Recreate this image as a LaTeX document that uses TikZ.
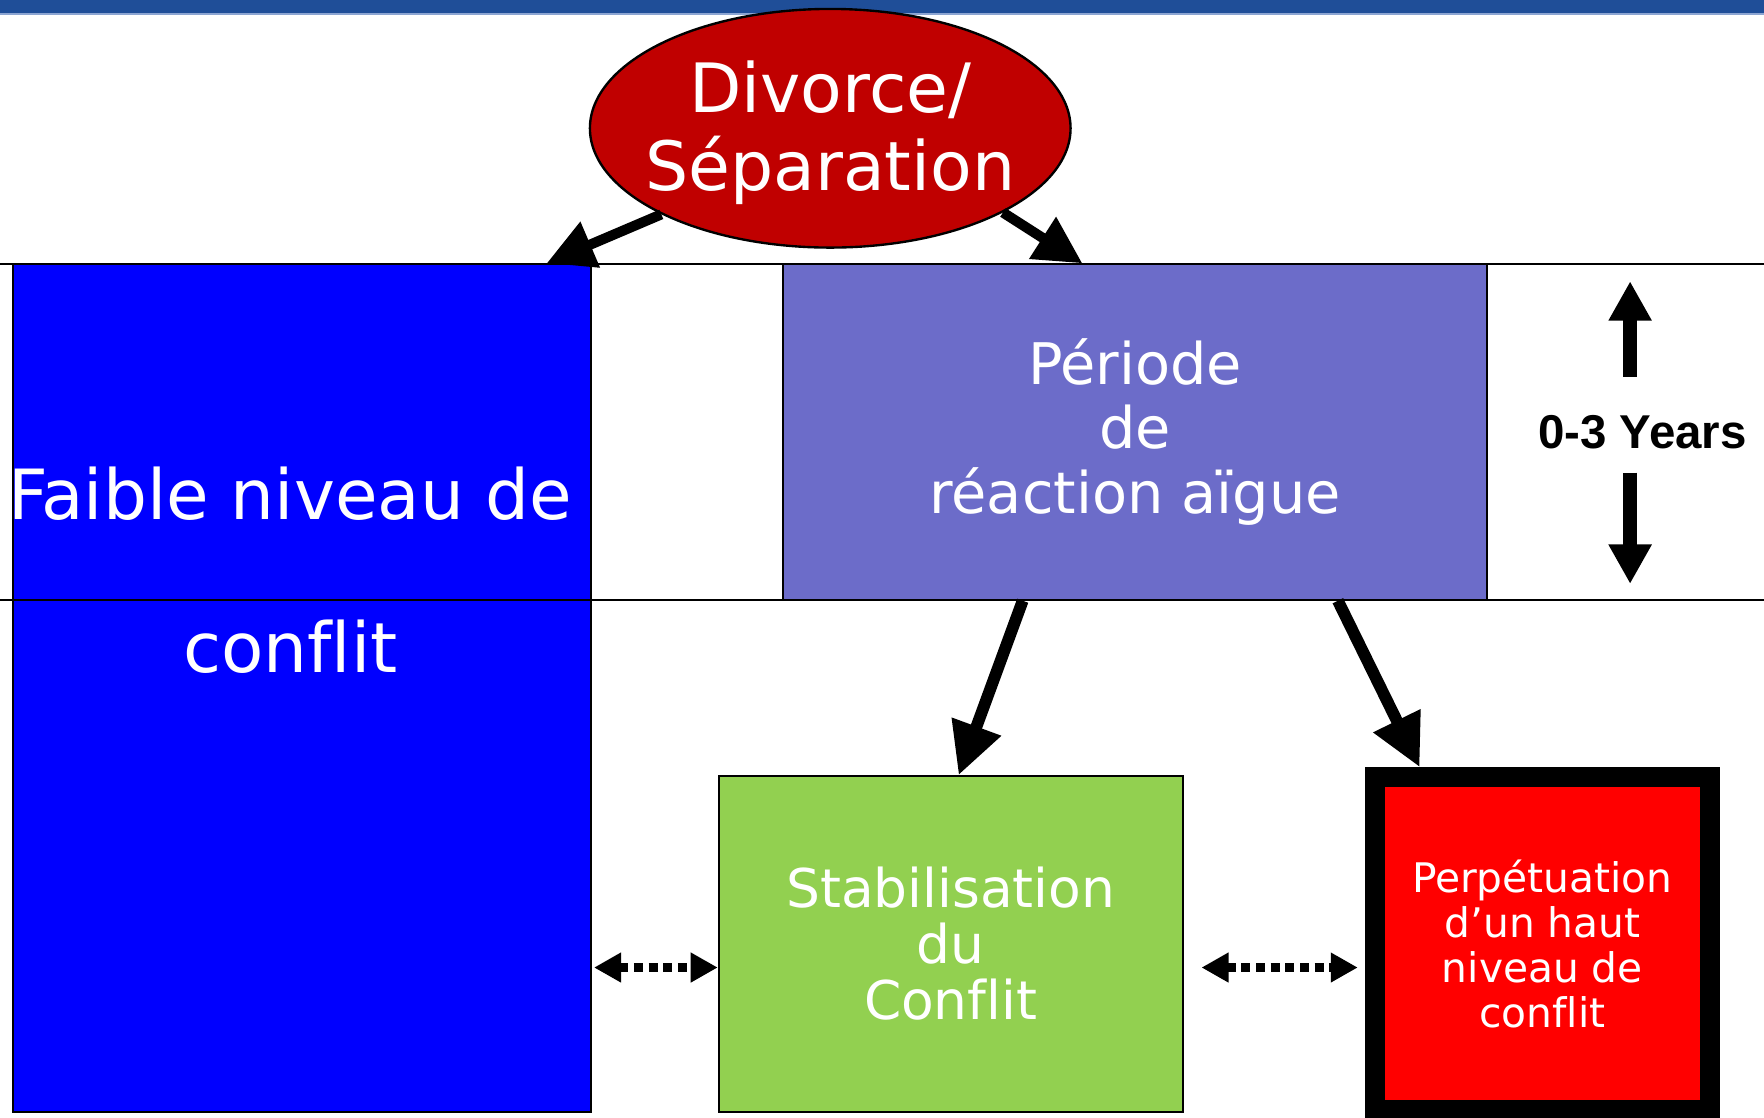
\documentclass[tikz,border=0pt]{standalone}
\usepackage{fontspec}
\newfontfamily\boxfont[Ligatures=NoCommon]{DejaVu Sans}
\newfontfamily\yearsfont{Liberation Sans}
\usetikzlibrary{
		shapes.geometric,
		arrows.meta,
		positioning
	}
\definecolor{bandblue}{RGB}{31,78,152}
\definecolor{bandlight}{RGB}{140,165,210}
\definecolor{divred}{RGB}{192,0,0}
\definecolor{lowblue}{RGB}{0,0,255}
\definecolor{acutepurple}{RGB}{108,108,201}
\definecolor{stabgreen}{RGB}{146,208,80}
\definecolor{highred}{RGB}{255,0,0}
\tikzset{
		>=Triangle
	}

\begin{document}
\begin{tikzpicture}[x=0.01cm, y=-0.01cm,
				box/.style={rectangle, draw=black, line width=0.5pt, inner sep=0pt, text=white, align=center},
				divorce/.style={ellipse, draw=black, line width=0.6pt, fill=divred, minimum width=4.27cm, minimum height=2.12cm, inner sep=0pt},
				divtext/.style={text=white, align=center, font={\boxfont\fontsize{17.2}{19.6}\selectfont}},
				rule/.style={line width=0.5pt},
				bigarrow/.style={line width=0.09cm, -{Triangle[length=0.42cm, width=0.42cm]}},
				downarrow/.style={line width=0.105cm, -{Triangle[length=0.46cm, width=0.44cm]}},
				yeararrow/.style={line width=0.12cm, -{Triangle[length=0.35cm, width=0.36cm]}},
				dotarrow/.style={line width=0.075cm, dash pattern=on 0.08cm off 0.05cm, {Triangle[length=0.24cm, width=0.25cm]}-{Triangle[length=0.24cm, width=0.25cm]}}]
	\useasboundingbox (0,0) rectangle (1568,993);
	% band on top
	\fill[bandblue] (0,0) rectangle (1568,11.5);
	\fill[bandlight] (0,11.5) rectangle (1568,13.5);
	% boxes
	\node[box, fill=lowblue, minimum width=5.13cm, minimum height=7.53cm] (faible) at (268.5,611.5) {};
	\node[text=white, align=center, font={\boxfont\fontsize{17.5}{38.7}\selectfont}] (faibletxt) at (258,506.5) {Faible niveau de\\conflit};
	\node[box, fill=acutepurple, minimum width=6.26cm, minimum height=2.98cm, font={\boxfont\fontsize{14.5}{16.2}\selectfont}] (reac) at (1009,384) {Période\\de\\réaction aïgue};
	\node[box, fill=stabgreen, minimum width=4.12cm, minimum height=2.98cm, font={\boxfont\fontsize{13.5}{14.2}\selectfont}] (stab) at (845,839) {Stabilisation\\du\\Conflit};
	\node[box, line width=0.18cm, fill=highred, minimum width=2.98cm, minimum height=2.96cm, font={\boxfont\fontsize{10.3}{11.4}\selectfont}] (perp) at (1371,839) {Perpétuation\\d’un haut\\niveau de\\conflit};
	\draw[rule] (0,235) -- (1568,235);
	\draw[rule] (0,533) -- (1568,533);
	% time span
	\node[font={\yearsfont\bfseries\fontsize{12}{14}\selectfont}] (years) at (1460,384) {0-3 Years};
	\coordinate (uptail) at (1449,335);
	\coordinate (uptip) at (1449,250);
	\coordinate (downtail) at (1449,420);
	\coordinate (downtip) at (1449,519);
	\draw[yeararrow] (uptail) -- (uptip);
	\draw[yeararrow] (downtail) -- (downtip);
	% divorce
	\node[divorce, label={[divtext, yshift=-0.04cm]center:{Divorce/\\Séparation}}] (div) at (738,114) {};
	\draw[bigarrow] (div.207) -- ([xshift=-0.4cm]faible.north east);
	\draw[bigarrow] (div.-26) -- ([xshift=2.67cm]reac.north west);
	\draw[downarrow] ([xshift=2.14cm]reac.south west) -- ([xshift=2.14cm]stab.north west);
	\draw[downarrow] ([xshift=4.94cm]reac.south west) -- ([xshift=0.49cm]perp.north west);
	% links
	\path ([yshift=-0.21cm]stab.west) coordinate (stableft);
	\path ([yshift=-0.21cm]stab.east) coordinate (stabright);
	\draw[dotarrow] ([xshift=0.02cm]faible.east |- stableft) -- (stableft);
	\draw[dotarrow] ([xshift=0.16cm]stabright) -- ([xshift=-0.06cm]perp.west |- stabright);
\end{tikzpicture}
\end{document}
